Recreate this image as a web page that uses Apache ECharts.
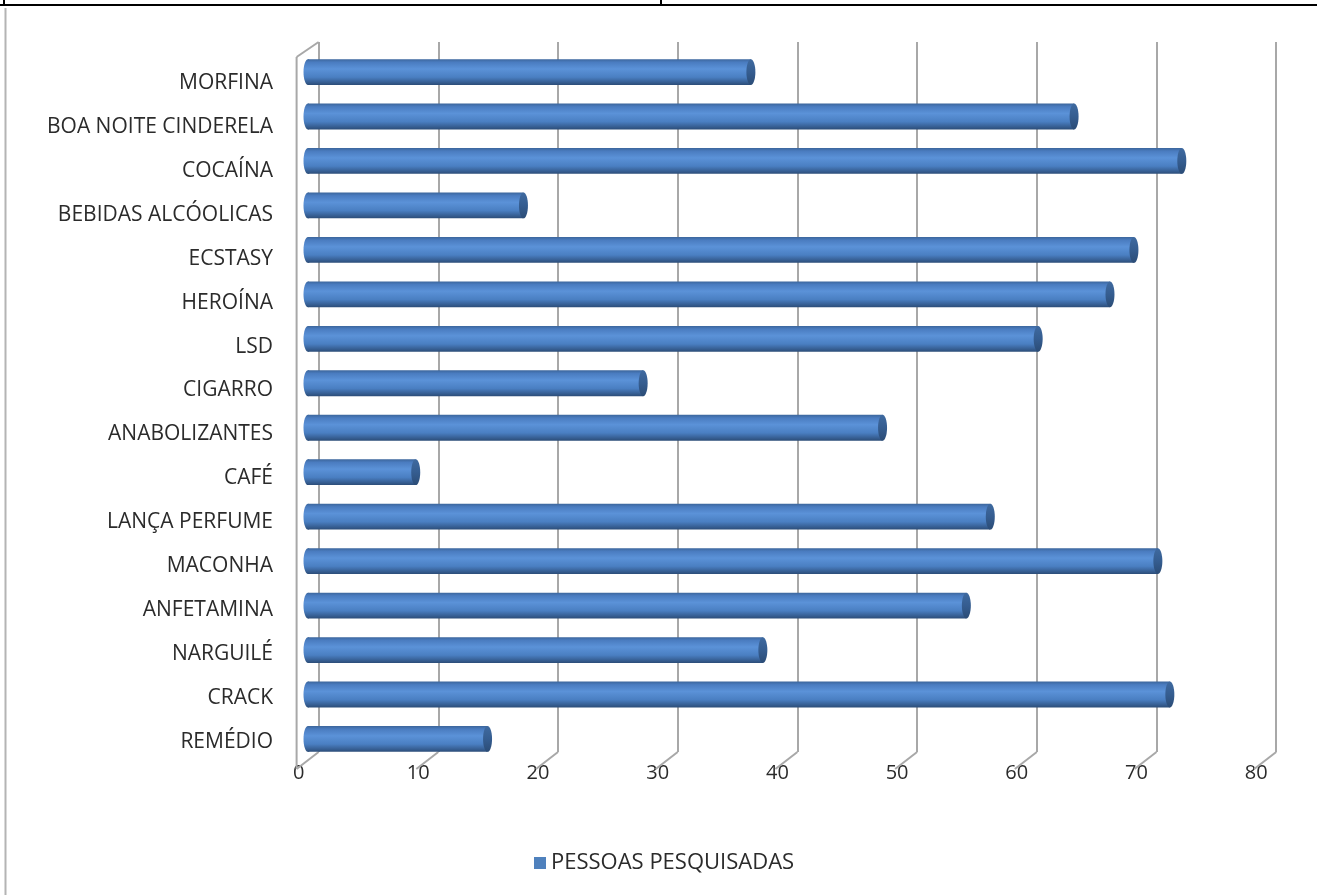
<!DOCTYPE html>
<html>
<head>
<meta charset="utf-8">
<script src="https://cdn.jsdelivr.net/npm/echarts@6/dist/echarts.min.js"></script>
<style>
html,body{margin:0;padding:0;background:#fff;}
#chart{width:1317px;height:895px;}
</style>
</head>
<body>
<div id="chart"></div>
<script>
const categories = ["MORFINA","BOA NOITE CINDERELA","COCAÍNA","BEBIDAS ALCÓOLICAS","ECSTASY","HEROÍNA","LSD","CIGARRO","ANABOLIZANTES","CAFÉ","LANÇA PERFUME","MACONHA","ANFETAMINA","NARGUILÉ","CRACK","REMÉDIO"];
const values = [37,64,73,18,69,67,61,28,48,9,57,71,55,38,72,15];
const seriesName = "PESSOAS PESQUISADAS";
const xTicks = [0,10,20,30,40,50,60,70,80];

const chart = echarts.init(document.getElementById('chart'));
const FONT = "'Open Sans', 'Noto Sans', sans-serif";
const TXT = '#2b2b2b';

function bodyGrad(){
  return new echarts.graphic.LinearGradient(0,0,0,1,[
    {offset:0, color:'#3c669c'},
    {offset:0.12, color:'#4a7cc0'},
    {offset:0.38, color:'#5b92d8'},
    {offset:0.7, color:'#4a7fc2'},
    {offset:0.9, color:'#365e92'},
    {offset:1, color:'#2c4d78'}
  ]);
}

const option = {
  animation:false,
  textStyle:{fontFamily:FONT},
  legend:{
    data:[{name:seriesName, icon:'rect'}],
    left:529, top:847,
    itemWidth:12, itemHeight:12, itemGap:6,
    textStyle:{fontSize:22, color:TXT, fontFamily:FONT}
  },
  grid:[
    {left:308, width:957.6, top:49.8, height:711.4},
    {left:318.6, width:957.6, top:42, bottom:143},
    {left:298.6, width:957.6, top:740, height:16},
    {left:308, width:957.6, top:61, height:702.9}
  ],
  xAxis:[
    {gridIndex:0, type:'value', min:0, max:80, interval:10, show:false},
    {gridIndex:1, type:'value', min:0, max:80, interval:10,
      axisLine:{show:false}, axisTick:{show:false}, axisLabel:{show:false},
      splitLine:{show:true, lineStyle:{color:'#a8a8a8', width:2}}},
    {gridIndex:2, type:'value', min:0, max:80, interval:10,
      axisLine:{show:false}, axisTick:{show:false}, splitLine:{show:false},
      axisLabel:{show:true, margin:7, fontSize:20, color:TXT, fontFamily:FONT}},
    {gridIndex:3, type:'value', min:0, max:80, show:false}
  ],
  yAxis:[
    {gridIndex:0, type:'category', data:categories, inverse:true, show:false},
    {gridIndex:1, type:'value', min:0, max:1, show:false, splitLine:{show:false}},
    {gridIndex:2, type:'value', min:0, max:1, show:false, splitLine:{show:false}},
    {gridIndex:3, type:'category', data:categories, inverse:true,
      axisLine:{show:false}, axisTick:{show:false}, splitLine:{show:false},
      axisLabel:{margin:35, fontSize:21, color:TXT, fontFamily:FONT}}
  ],
  graphic:[
    {type:'line', shape:{x1:0,y1:5,x2:1317,y2:5}, style:{stroke:'#000', lineWidth:2}, silent:true},
    {type:'line', shape:{x1:4,y1:0,x2:4,y2:6}, style:{stroke:'#000', lineWidth:2}, silent:true},
    {type:'line', shape:{x1:661,y1:0,x2:661,y2:6}, style:{stroke:'#000', lineWidth:2}, silent:true},
    {type:'line', shape:{x1:5.5,y1:8,x2:5.5,y2:895}, style:{stroke:'#b4b4b4', lineWidth:2}, silent:true}
  ],
  series:[
    {
      type:'custom', name:'floor', xAxisIndex:1, yAxisIndex:1, silent:true,
      data: xTicks.map(t=>[t]),
      encode:{x:0},
      renderItem:function(params, api){
        const k = api.value(0);
        const p = api.coord([k, 0]);
        const children = [{
          type:'line',
          shape:{x1:p[0], y1:p[1], x2:p[0]-22, y2:p[1]+17},
          style:{stroke:'#a8a8a8', lineWidth:2}
        }];
        if (k === 0) {
          const t = api.coord([0, 1]);
          children.push({type:'line', shape:{x1:t[0], y1:t[1], x2:t[0]-22, y2:t[1]+15}, style:{stroke:'#a8a8a8', lineWidth:2}});
          children.push({type:'line', shape:{x1:t[0]-22, y1:t[1]+15, x2:p[0]-22, y2:p[1]+17}, style:{stroke:'#a8a8a8', lineWidth:2}});
        }
        return {type:'group', children:children};
      }
    },
    {
      type:'custom', name:seriesName, xAxisIndex:0, yAxisIndex:0,
      itemStyle:{color:'#4F81BD'},
      data: values.map((v,i)=>[v,i]),
      encode:{x:0, y:1},
      renderItem:function(params, api){
        const v = api.value(0), ci = api.value(1);
        const s = api.coord([0, ci]);
        const e = api.coord([v, ci]);
        const h = api.size([0,1])[1] * 0.58;
        const rx = 4.5;
        return {type:'group', children:[
          {type:'ellipse', shape:{cx:s[0], cy:s[1], rx:rx, ry:h/2}, style:{fill:bodyGrad()}},
          {type:'rect', shape:{x:s[0], y:s[1]-h/2, width:e[0]-s[0], height:h}, style:{fill:bodyGrad()}},
          {type:'ellipse', shape:{cx:e[0], cy:e[1], rx:rx, ry:h/2},
            style:{fill:new echarts.graphic.LinearGradient(0,0,0,1,[
              {offset:0,color:'#3f6aa0'},{offset:0.5,color:'#355d90'},{offset:1,color:'#2b4c76'}])}}
        ]};
      }
    }
  ]
};
chart.setOption(option);
</script>
</body>
</html>
